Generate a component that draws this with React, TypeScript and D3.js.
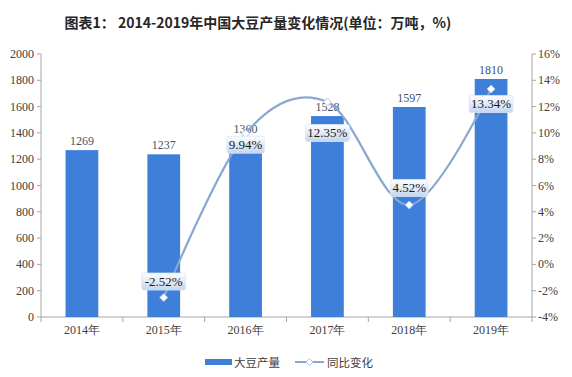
import React from "react";
import * as d3 from "d3";

const years = ["2014年", "2015年", "2016年", "2017年", "2018年", "2019年"];
const production = [1269, 1237, 1360, 1528, 1597, 1810];
const growth = [null, -2.52, 9.94, 12.35, 4.52, 13.34];
const growthLabels = ["", "-2.52%", "9.94%", "12.35%", "4.52%", "13.34%"];
const leftTicks = [0, 200, 400, 600, 800, 1000, 1200, 1400, 1600, 1800, 2000];
const rightTicks = [-4, -2, 0, 2, 4, 6, 8, 10, 12, 14, 16];

// label placement offsets (px) relative to each marker
const labelDy = [0, -16, 11, 31, -17, 15];

const W = 572, H = 377;
const L = 41, R = 532, T = 54, B = 317;
const serif = "'Liberation Serif', 'Times New Roman', serif";
const axisColor = "#a6a6a6";
const barColor = "#3d7fd9";
const lineColor = "#8aa6d2";

export default function App() {
  const x = d3.scaleBand<string>().domain(years).range([L, R]).paddingInner(0.6).paddingOuter(0.3);
  const band = d3.scaleBand<string>().domain(years).range([L, R]);
  const yL = d3.scaleLinear().domain([0, 2000]).range([B, T]);
  const yR = d3.scaleLinear().domain([-4, 16]).range([B, T]);

  const pts = years
    .map((yr, i) => ({ yr, v: growth[i], i }))
    .filter((d) => d.v !== null) as { yr: string; v: number; i: number }[];
  const line = d3
    .line<{ yr: string; v: number }>()
    .x((d) => (x(d.yr) as number) + x.bandwidth() / 2)
    .y((d) => yR(d.v))
    .curve(d3.curveCardinal.tension(0));

  return (
    <svg width={W} height={H} style={{ position: "absolute", left: 0, top: 0, background: "#fff" }}>
      <defs>
        <linearGradient id="lbl" x1="0" y1="0" x2="0" y2="1">
          <stop offset="0" stopColor="#ffffff" />
          <stop offset="1" stopColor="#c3d6ef" />
        </linearGradient>
      </defs>
      <text x={258} y={28} textAnchor="middle" fontFamily="'Noto Sans CJK SC', sans-serif" fontWeight="bold" fontSize={14} fill="#262626">
        图表1： 2014-2019年中国大豆产量变化情况(单位：万吨，%)
      </text>

      {/* left axis */}
      <line x1={L} x2={L} y1={T} y2={B} stroke={axisColor} />
      {leftTicks.map((t) => (
        <g key={"l" + t}>
          <line x1={L - 4} x2={L} y1={yL(t)} y2={yL(t)} stroke={axisColor} />
          <text x={L - 7} y={yL(t) + 4} textAnchor="end" fontFamily={serif} fontSize={12} fill="#404040">
            {t}
          </text>
        </g>
      ))}
      {/* right axis */}
      <line x1={R} x2={R} y1={T} y2={B} stroke={axisColor} />
      {rightTicks.map((t) => (
        <g key={"r" + t}>
          <line x1={R} x2={R + 4} y1={yR(t)} y2={yR(t)} stroke={axisColor} />
          <text x={R + 6} y={yR(t) + 4} textAnchor="start" fontFamily={serif} fontSize={12} fill="#404040">
            {t + "%"}
          </text>
        </g>
      ))}
      {/* x axis */}
      <line x1={L} x2={R} y1={B} y2={B} stroke={axisColor} />
      {years.map((yr) => (
        <line key={"xt" + yr} x1={(band(yr) as number) + band.bandwidth()} x2={(band(yr) as number) + band.bandwidth()} y1={B} y2={B + 5} stroke={axisColor} />
      ))}
      <line x1={L} x2={L} y1={B} y2={B + 5} stroke={axisColor} />
      {years.map((yr) => (
        <text key={"xl" + yr} x={(x(yr) as number) + x.bandwidth() / 2} y={B + 17} textAnchor="middle" fontFamily={serif} fontSize={12} fill="#404040">
          {yr}
        </text>
      ))}

      {/* bars */}
      {years.map((yr, i) => (
        <g key={"b" + yr}>
          <rect x={x(yr)} y={yL(production[i])} width={x.bandwidth()} height={B - yL(production[i])} fill={barColor} />
          <text x={(x(yr) as number) + x.bandwidth() / 2} y={yL(production[i]) - 5} textAnchor="middle" fontFamily={serif} fontSize={12} fill="#44546a">
            {production[i]}
          </text>
        </g>
      ))}

      {/* line */}
      <path d={line(pts) || ""} fill="none" stroke={lineColor} strokeWidth={2.2} />
      {pts.map((d) => {
        const cx = (x(d.yr) as number) + x.bandwidth() / 2;
        const cy = yR(d.v);
        return (
          <path key={"m" + d.yr} d={`M${cx},${cy - 4}L${cx + 4},${cy}L${cx},${cy + 4}L${cx - 4},${cy}Z`} fill="#ffffff" stroke="#b4c8e6" strokeWidth={1} />
        );
      })}
      {pts.map((d) => {
        const cx = (x(d.yr) as number) + x.bandwidth() / 2;
        const cy = yR(d.v) + labelDy[d.i];
        const txt = growthLabels[d.i];
        const w = txt.length * 6.3 + 6;
        return (
          <g key={"gl" + d.yr}>
            <rect x={cx - w / 2} y={cy - 8.5} width={w} height={17} rx={2} fill="url(#lbl)" stroke="#dbe5f3" strokeWidth={0.8} />
            <text x={cx} y={cy + 4.5} textAnchor="middle" fontFamily={serif} fontSize={13} fill="#1a1a1a">
              {txt}
            </text>
          </g>
        );
      })}

      {/* legend */}
      <rect x={205} y={359} width={27} height={6} fill={barColor} />
      <text x={234} y={367} fontFamily="'Noto Sans CJK SC', sans-serif" fontSize={11.5} fill="#404040">大豆产量</text>
      <line x1={295} x2={324} y1={362} y2={362} stroke={lineColor} strokeWidth={2} />
      <path d="M309.5,358.5L313,362L309.5,365.5L306,362Z" fill="#fff" stroke="#b4c8e6" />
      <text x={327} y={367} fontFamily="'Noto Sans CJK SC', sans-serif" fontSize={11.5} fill="#404040">同比变化</text>
    </svg>
  );
}
